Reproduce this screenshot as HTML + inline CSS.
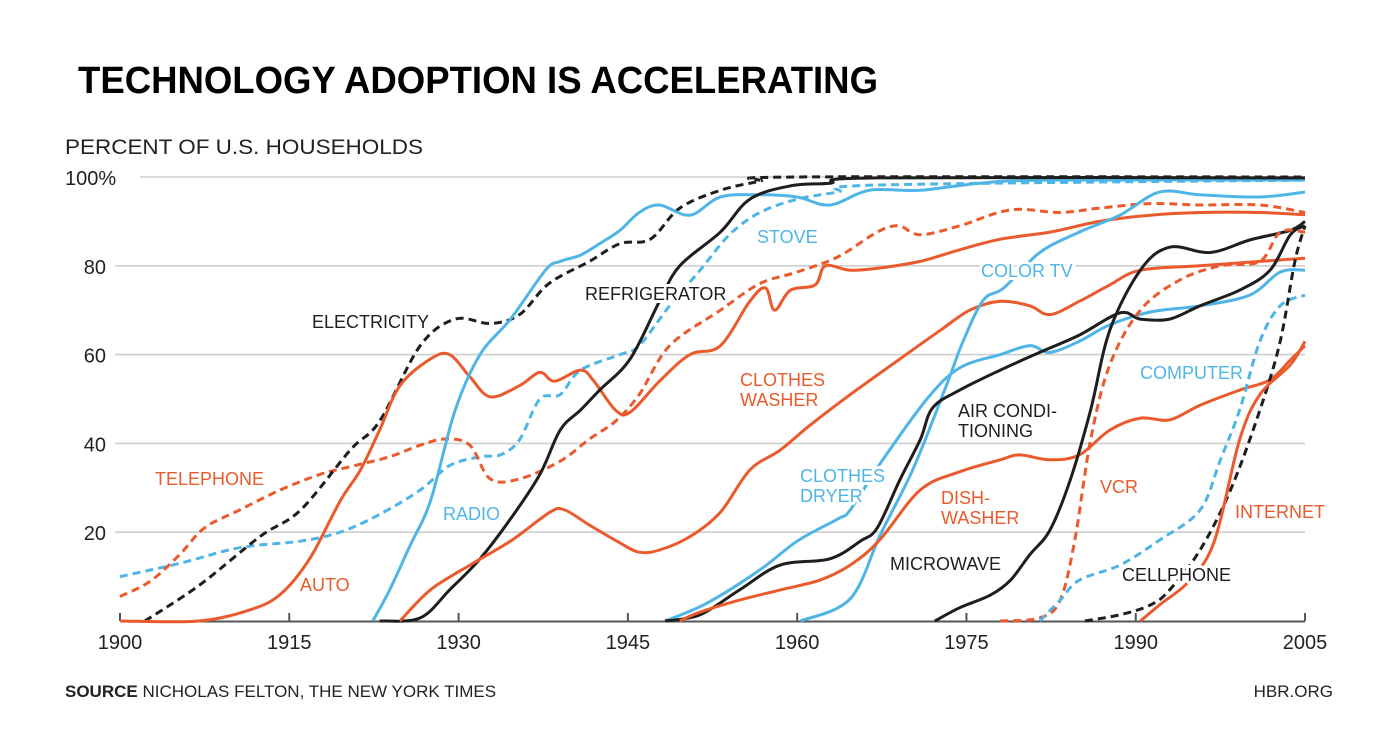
<!DOCTYPE html>
<html><head><meta charset="utf-8"><style>
html,body{margin:0;padding:0;background:#fff;}
svg{display:block;font-family:"Liberation Sans",sans-serif;}
</style></head><body>
<svg id="chart" width="1400" height="750" viewBox="0 0 1400 750">
<text x="78" y="93" font-size="38" font-weight="bold" fill="#000" textLength="800" lengthAdjust="spacingAndGlyphs">TECHNOLOGY ADOPTION IS ACCELERATING</text>
<text x="65" y="154" font-size="21" fill="#222" textLength="358" lengthAdjust="spacingAndGlyphs">PERCENT OF U.S. HOUSEHOLDS</text>
<g id="grid"></g><g id="lines"></g><g id="labels"></g>
<text x="65" y="697" font-size="17" fill="#222"><tspan font-weight="bold">SOURCE</tspan> NICHOLAS FELTON, THE NEW YORK TIMES</text>
<text x="1333" y="697" font-size="17" fill="#222" text-anchor="end">HBR.ORG</text>
</svg>
<script>
const xTicks=[1900,1915,1930,1945,1960,1975,1990,2005];
const yTicks=[20,40,60,80,100];
const electricityYears=[1902.2,1907,1912.4,1916,1920.4,1923,1926.6,1929.7,1932.8,1935.4,1938,1941.6,1944.3,1947,1949.6,1953.2,1956.7,1960,2005];
const electricityVals=[0,8,19,25,38.5,45,62,68,67,69,76,81,85,86,93,97,99,100,100];
const telephoneYears=[1900,1902.7,1905.3,1907.5,1910.6,1914.2,1917.7,1920.8,1923.9,1926.6,1928.8,1931,1932.8,1935.4,1939,1941.6,1943.9,1946,1948.7,1953.2,1956.7,1960,1963.6,1967.1,1969,1970.9,1974.4,1978.9,1983.3,1986.8,1991.3,1995.7,2001,2005];
const telephoneVals=[5.5,9,15,21,25,29.5,33,35,37,39.6,41,39.6,32,32,36,41,45,51,62,70,76,78.6,82,87.6,89,87,89,92.6,92,93,94,93.7,93.7,92];
const autoYears=[1900,1907,1911.5,1914.2,1916.8,1919.5,1921.3,1923,1924.8,1927.5,1929.2,1931,1932.8,1935.4,1937.2,1938.5,1940.8,1942,1943.9,1945.2,1947.8,1950.5,1953.2,1955.8,1957.2,1958,1959.4,1961.6,1962.5,1964.7,1967.3,1970.9,1974.4,1978,1982.4,1986.8,1991.3,1995.7,2001,2005];
const autoVals=[0,0,2.5,6,14,27,34,43,53,59,60,55,50.5,53,56,54,56.5,54,47.5,47,54,60,62,72,75,70,74.5,75.7,80,79,79.5,81,83.6,86,87.6,90,91.4,92,92,91.5];
const radioYears=[1922.4,1923.9,1925.7,1927.5,1929.7,1931.9,1934.6,1937.7,1939,1940.8,1942.5,1944.3,1946,1947.8,1950.5,1953.2,1956.7,1960,1962.9,1966.4,1970.9,1976.2,1982.4,2005];
const radioVals=[0,7,17,27,47.5,60,68,79,81,82.4,85,88,92,93.7,91.4,95.5,96,95.5,93.7,97,97,98.6,99.3,99.3];
const fridgeYears=[1923,1926.6,1929.2,1931.9,1934.6,1937.2,1939,1940.8,1942.5,1945.2,1947.8,1949.6,1953.2,1955.8,1959.4,1962.9,1967.3,2005];
const fridgeVals=[0,0.7,7,14,23,33,43,47.5,52,59,72,80,87.6,95,98,98.6,99.8,99.8];
const stoveYears=[1900,1905.3,1910.6,1916,1919.5,1923,1926.6,1929.2,1931.9,1933.7,1935.4,1937.2,1939,1940.8,1944.3,1946,1948.7,1951.4,1954,1956.7,1960,1963.6,1967.3,2005];
const stoveVals=[10,13,16.5,18,20,24,29.5,35,37,37.4,40.8,50,51,56.5,60,62,71,79,87,92,95,96.6,98.2,99.3];
const washerYears=[1924.8,1927.5,1931,1934.6,1938.1,1939.4,1941.6,1944.3,1946,1947.8,1950.5,1953.2,1955.8,1958.5,1961.1,1964.7,1969.1,1972.7,1975.3,1978,1980.6,1982.4,1985,1987.7,1990.4,1995.7,2001,2005];
const washerVals=[0,7,12.6,18,24.5,25,21.6,17.6,15.5,16,19,24.5,34,38.5,44,51,59,65.5,70,72,71,69,72,75.7,79,80,81,81.7];
const dryerYears=[1948.3,1952,1956.7,1960,1963.6,1964.7,1967.5,1971.5,1974.4,1978,1980.6,1982.4,1985,1987.7,1991.3,1995.7,2000.1,2002.8,2005];
const dryerVals=[0,4,11.5,18,23,25,36,50,57,60,62,60.5,63,66.7,69.6,71,73.4,78.6,79];
const colorTvYears=[1960.3,1964.7,1967.4,1970.3,1973.3,1974.7,1976.5,1978.3,1981.5,1985,1988.6,1992.1,1995.7,2001,2005];
const colorTvVals=[0,5,19.6,34.4,53.6,63,72.3,75,83,87.6,91.4,96.6,96,95.5,96.6];
const acYears=[1948.3,1951.4,1954.9,1958.5,1962.9,1965.6,1967.1,1969.1,1970.9,1972,1974.4,1978,1981.5,1985,1988.6,1990.4,1993,1995.7,1999.2,2001.9,2003.7,2005];
const acVals=[0,1.4,7,12.6,14,18,21,31.8,40.8,48,52,56.5,60.5,64.4,69.4,68,68,71,74.5,79,87,89];
const dishYears=[1949.6,1951.4,1954.9,1958.5,1962,1964.7,1967.3,1970.9,1974.4,1978,1979.7,1982.4,1985,1987.7,1990.4,1993,1995.7,1999.2,2001.9,2003.7,2005];
const dishVals=[0,2,4.7,7,9.2,12.6,18.2,29.5,33.6,36.3,37.4,36.3,37.4,43,45.7,45.3,48.6,52,54.3,58.8,62];
const microYears=[1972.2,1974.4,1977.1,1978.9,1980.6,1982.4,1984.2,1986,1987.7,1990.4,1993,1996.6,2000.1,2003.7,2005];
const microVals=[0,3,5.8,9.2,14.9,20.5,31.8,47.5,65.5,79,84.2,83,85.8,88,90];
const vcrYears=[1978,1981.5,1983.3,1984.6,1986,1987.7,1990.4,1993.9,1997.5,2001,2002.8,2005];
const vcrVals=[0,0.7,4.7,18.2,40.8,57.7,70,76.8,80,81,87.6,87.6];
const computerYears=[1981.5,1983.3,1985,1988.6,1992.1,1995.7,1997.5,1999.2,2001,2002.8,2005];
const computerVals=[0,4.7,9.2,12.6,18.2,25,36.3,47.5,63,71,73.4];
const cellYears=[1985.5,1988.6,1991.3,1993,1995.7,1998.4,2001,2002.8,2004.1,2005];
const cellVals=[0,1.4,3.6,7,16,29.5,47.5,63,81,89];
const netYears=[1990.4,1992.1,1994.8,1997,1999.2,2001,2003.7,2005];
const netVals=[0,3.6,9.2,18.2,40.8,51,57.7,63];

const OR='#ea5a2c',BL='#4fb5e6',BK='#1e1e1e';
const X=y=>120+(y-1900)*11.286;
const Y=v=>621-v*4.44;
const NS='http://www.w3.org/2000/svg';
function mk(t,a,p){const e=document.createElementNS(NS,t);for(const k in a)e.setAttribute(k,a[k]);p.appendChild(e);return e;}
const grid=document.getElementById('grid'),lines=document.getElementById('lines'),labels=document.getElementById('labels');
yTicks.forEach(v=>{
  const g=mk('line',{x1:v===100?140:115,x2:1305,y1:Y(v),y2:Y(v),stroke:'#cfcfcf','stroke-width':1.6},grid);
  
  
  const t=mk('text',{x:v===100?65:106,y:Y(v)+8,'font-size':20,fill:'#222','text-anchor':v===100?'start':'end'},grid);
  t.textContent=v===100?'100%':String(v);
  
  
});
const ax=mk('line',{x1:120,x2:1305,y1:621.5,y2:621.5,stroke:'#555','stroke-width':2},grid);


xTicks.forEach(yr=>{
  const tk=mk('line',{x1:X(yr),x2:X(yr),y1:621,y2:613,stroke:'#555','stroke-width':2},grid);
  
  
  const t=mk('text',{x:X(yr),y:649,'font-size':20,fill:'#222','text-anchor':'middle'},grid);
  t.textContent=String(yr);
  
  
});
function smooth(pts){
  let d='M'+pts[0][0].toFixed(1)+','+pts[0][1].toFixed(1);
  for(let i=0;i<pts.length-1;i++){
    const p0=pts[i-1]||pts[i],p1=pts[i],p2=pts[i+1],p3=pts[i+2]||p2;
    const c1=[p1[0]+(p2[0]-p0[0])/6,p1[1]+(p2[1]-p0[1])/6];
    const c2=[p2[0]-(p3[0]-p1[0])/6,p2[1]-(p3[1]-p1[1])/6];
    d+='C'+c1[0].toFixed(1)+','+c1[1].toFixed(1)+' '+c2[0].toFixed(1)+','+c2[1].toFixed(1)+' '+p2[0].toFixed(1)+','+p2[1].toFixed(1);
  }
  return d;
}
function series(name,xs,vs,color,dash){
  const pts=xs.map((x,i)=>[X(x),Y(vs[i])]);
  const p=mk('path',{d:smooth(pts),fill:'none',stroke:color,'stroke-width':3,'stroke-linejoin':'round','stroke-dasharray':dash?'8 5':'none'},lines);
  
  
}
series('stove',stoveYears,stoveVals,BL,true);
series('telephone',telephoneYears,telephoneVals,OR,true);
series('electricity',electricityYears,electricityVals,BK,true);
series('auto',autoYears,autoVals,OR,false);
series('radio',radioYears,radioVals,BL,false);
series('refrigerator',fridgeYears,fridgeVals,BK,false);
series('clothes-washer',washerYears,washerVals,OR,false);
series('clothes-dryer',dryerYears,dryerVals,BL,false);
series('color-tv',colorTvYears,colorTvVals,BL,false);
series('air-conditioning',acYears,acVals,BK,false);
series('dishwasher',dishYears,dishVals,OR,false);
series('microwave',microYears,microVals,BK,false);
series('vcr',vcrYears,vcrVals,OR,true);
series('computer',computerYears,computerVals,BL,true);
series('cellphone',cellYears,cellVals,BK,true);
series('internet',netYears,netVals,OR,false);
const labelData=[
 ['electricity-label',['ELECTRICITY'],312,328,BK],
 ['refrigerator-label',['REFRIGERATOR'],585,300,BK],
 ['stove-label',['STOVE'],757,243,BL],
 ['color-tv-label',['COLOR TV'],981,277,BL],
 ['clothes-washer-label',['CLOTHES','WASHER'],740,386,OR],
 ['computer-label',['COMPUTER'],1140,379,BL],
 ['air-conditioning-label',['AIR CONDI-','TIONING'],958,417,BK],
 ['telephone-label',['TELEPHONE'],155,485,OR],
 ['clothes-dryer-label',['CLOTHES','DRYER'],800,482,BL],
 ['radio-label',['RADIO'],443,520,BL],
 ['dishwasher-label',['DISH-','WASHER'],941,504,OR],
 ['vcr-label',['VCR'],1100,493,OR],
 ['internet-label',['INTERNET'],1235,518,OR],
 ['auto-label',['AUTO'],300,591,OR],
 ['microwave-label',['MICROWAVE'],890,570,BK],
 ['cellphone-label',['CELLPHONE'],1122,581,BK]
];
labelData.forEach(([n,ls,x,y,c])=>{
  const t=mk('text',{x:x,y:y,'font-size':18,fill:c,stroke:'#fff','stroke-width':6,'paint-order':'stroke','stroke-linejoin':'round'},labels);
  ls.forEach((s,i)=>{const ts=mk('tspan',{x:x,y:y+i*20},t);ts.textContent=s;});
  
  
});
</script>
</body></html>
